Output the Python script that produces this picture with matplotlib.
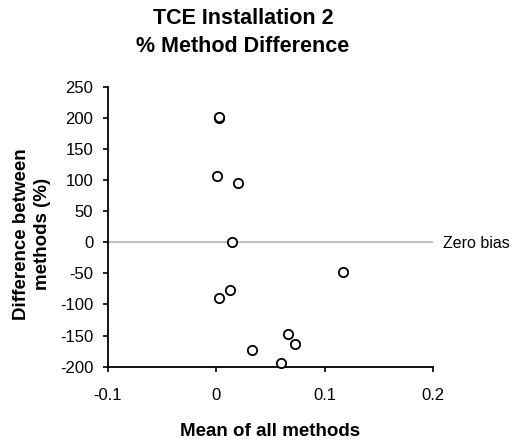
import matplotlib
matplotlib.use("Agg")
import matplotlib.pyplot as plt

# mean of all methods vs % difference between methods
mean_all = [0.002, 0.0025, 0.0003, 0.020, 0.014, 0.117, 0.013, 0.002, 0.066, 0.073, 0.033, 0.060]
pct_diff = [200, 201, 107, 96, 0, -47, -77, -89, -147, -164, -173, -194]
x_ticks = [-0.1, 0, 0.1, 0.2]
x_labels = ["-0.1", "0", "0.1", "0.2"]
y_ticks = list(range(-200, 251, 50))

plt.rcParams["font.family"] = ["Liberation Sans", "DejaVu Sans"]
plt.rcParams["axes.unicode_minus"] = False

fig = plt.figure(figsize=(5.15, 4.44), dpi=100)
ax = fig.add_axes([108/515, 1 - 366.7/444, (433 - 108)/515, (366.7 - 86.7)/444])

ax.axhline(0, color="#b4b4b4", lw=1.2, zorder=1)
ax.scatter(mean_all, pct_diff, s=45, facecolors="white", edgecolors="black",
           linewidths=1.3, zorder=3, clip_on=False)

ax.set_xlim(-0.1, 0.2); ax.set_ylim(-200, 250)
ax.set_xticks(x_ticks); ax.set_xticklabels(x_labels)
ax.set_yticks(y_ticks)
for s in ("top", "right"):
    ax.spines[s].set_visible(False)
for s in ("left", "bottom"):
    ax.spines[s].set_linewidth(1.3)
ax.tick_params(labelsize=12, width=1.2, length=3.6)
ax.tick_params(axis="y", pad=7)
ax.tick_params(axis="x", pad=12)

ax.text(443/515, 1 - 243/444, "Zero bias", transform=fig.transFigure,
        fontsize=11.5, va="center", ha="left")

ax.set_xlabel("Mean of all methods", fontsize=13.5, fontweight="bold")
ax.xaxis.set_label_coords(0.5, -0.2)
fig.text(32/515, 1 - 234/444, "Difference between\nmethods (%)", fontsize=13.5,
         fontweight="bold", rotation=90, ha="center", va="center",
         linespacing=1.35, multialignment="center")

fig.text(243/515, 1 - 19/444, "TCE Installation 2", fontsize=15.5, fontweight="bold",
         ha="center", va="center")
fig.text(243/515, 1 - 46/444, "% Method Difference", fontsize=15.5, fontweight="bold",
         ha="center", va="center")

fig.savefig("out.png", dpi=100)
